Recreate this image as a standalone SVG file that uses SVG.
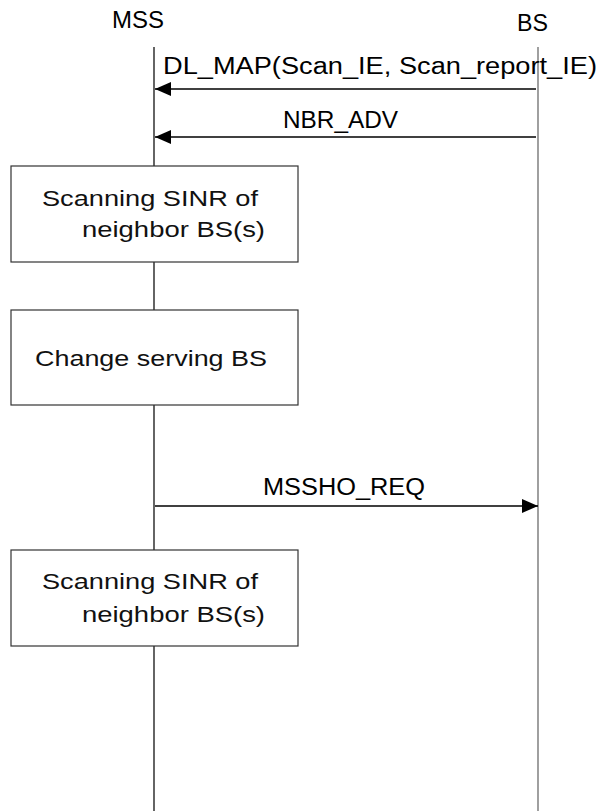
<svg xmlns="http://www.w3.org/2000/svg" width="602" height="811" viewBox="0 0 602 811">
<style>
text{font-family:"Liberation Sans","DejaVu Sans",sans-serif;fill:#000}
.hdr{font-size:23px}
.msg{font-size:23px}
.box{fill:#fff;stroke:#333;stroke-width:1.2}
.bt{font-size:22px;fill:#111}
.life{stroke:#111;stroke-width:1.3}
.lifeg{stroke:#888;stroke-width:1.6}
.arr{stroke:#000;stroke-width:1.6;fill:none}
</style>
<defs>
<marker id="ah" markerUnits="userSpaceOnUse" markerWidth="18" markerHeight="14" refX="16" refY="7" orient="auto">
<path d="M0,0 L16,7 L0,14 Z" fill="#000"/>
</marker>
</defs>
<g id="lifelines">
<line class="life" x1="154" y1="47" x2="154" y2="811"/>
<line class="lifeg" x1="538" y1="47" x2="538" y2="811"/>
</g>
<g id="MSS"><text class="hdr" x="112" y="28" textLength="52" lengthAdjust="spacingAndGlyphs">MSS</text></g>
<g id="BS"><text class="hdr" x="517" y="31" textLength="31" lengthAdjust="spacingAndGlyphs">BS</text></g>
<g id="connectors">
<line class="arr" x1="536" y1="89" x2="155" y2="89" marker-end="url(#ah)"/>
<text class="msg" x="163" y="74" textLength="434" lengthAdjust="spacingAndGlyphs">DL_MAP(Scan_IE, Scan_report_IE)</text>
<line class="arr" x1="536" y1="137" x2="155" y2="137" marker-end="url(#ah)"/>
<text class="msg" x="283" y="128" textLength="115" lengthAdjust="spacingAndGlyphs">NBR_ADV</text>
<line class="arr" x1="155" y1="506" x2="538" y2="506" marker-end="url(#ah)"/>
<text class="msg" x="263" y="495" textLength="162" lengthAdjust="spacingAndGlyphs">MSSHO_REQ</text>
</g>
<g id="box1">
<rect class="box" x="11" y="166" width="287" height="96"/>
<text class="bt" x="42" y="206" textLength="216" lengthAdjust="spacingAndGlyphs">Scanning SINR of</text>
<text class="bt" x="82" y="237" textLength="183" lengthAdjust="spacingAndGlyphs">neighbor BS(s)</text>
</g>
<g id="box2">
<rect class="box" x="11" y="310" width="287" height="95"/>
<text class="bt" x="35" y="366" textLength="232" lengthAdjust="spacingAndGlyphs">Change serving BS</text>
</g>
<g id="box3">
<rect class="box" x="11" y="550" width="287" height="96"/>
<text class="bt" x="42" y="589" textLength="216" lengthAdjust="spacingAndGlyphs">Scanning SINR of</text>
<text class="bt" x="82" y="622" textLength="183" lengthAdjust="spacingAndGlyphs">neighbor BS(s)</text>
</g>
</svg>
